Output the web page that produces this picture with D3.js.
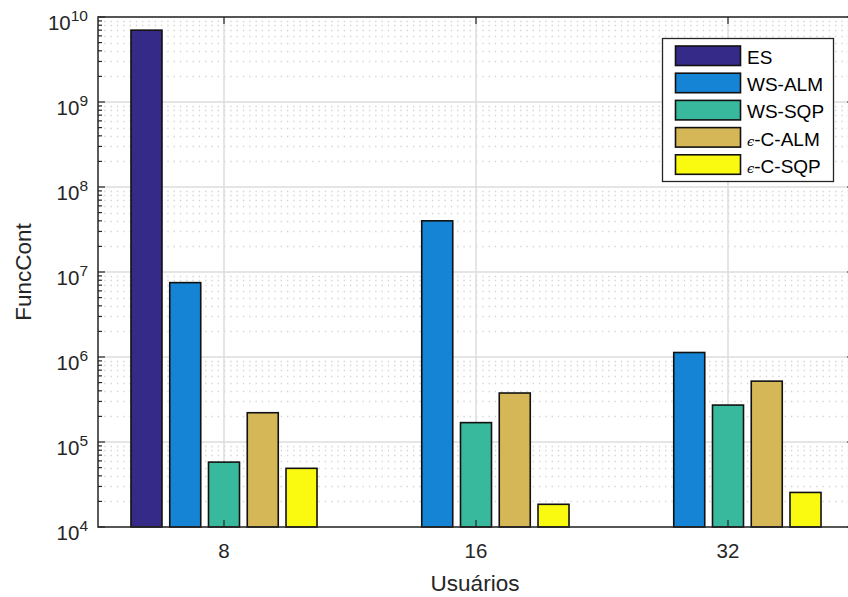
<!DOCTYPE html>
<html>
<head>
<meta charset="utf-8">
<script src="https://cdn.jsdelivr.net/npm/d3@7"></script>
<style>
  html, body { margin: 0; padding: 0; background: #fff; }
  svg { display: block; font-family: "Liberation Sans", Arial, Helvetica, sans-serif; }
</style>
</head>
<body>
<svg id="chart" width="848" height="597"></svg>
<script>
// Number of users per scenario (x groups)
const categories = ["8", "16", "32"];
// Optimisation methods (bar series)
const seriesNames = ["ES", "WS-ALM", "WS-SQP", "\u03F5-C-ALM", "\u03F5-C-SQP"];
const seriesColors = ["#352a87", "#1684d4", "#38b99e", "#d6b758", "#f9fa0f"];
// Function-evaluation counts, one array per method (null = not run)
const valuesES    = [7.0e9, null, null];
const valuesWSALM = [7.5e6, 4.0e7, 1.13e6];
const valuesWSSQP = [5.8e4, 1.69e5, 2.72e5];
const valuesECALM = [2.21e5, 3.77e5, 5.2e5];
const valuesECSQP = [4.9e4, 1.85e4, 2.55e4];
const seriesValues = [valuesES, valuesWSALM, valuesWSSQP, valuesECALM, valuesECSQP];
// Y axis decades
const yTickExponents = [4, 5, 6, 7, 8, 9, 10];

const svg = d3.select("#chart");
const plotLeft = 98, plotTop = 17, plotBottom = 527, plotRight = 854;
const axisColor = "#262626";

const x = d3.scaleBand().domain(categories).range([plotLeft, plotRight]).padding(0);
const groupW = x.bandwidth() * 0.769;
const xs = d3.scaleBand().domain(d3.range(seriesNames.length))
  .range([-groupW / 2, groupW / 2]).paddingInner(0.2).paddingOuter(0.1);
const y = d3.scaleLog().domain([1e4, 1e10]).range([plotBottom, plotTop]);

// Grid
const grid = svg.append("g");
const minorVals = [];
for (let e = 4; e < 10; e++) for (let m = 2; m <= 9; m++) minorVals.push(m * Math.pow(10, e));
grid.selectAll("line.minor").data(minorVals).join("line")
  .attr("x1", plotLeft).attr("x2", plotRight)
  .attr("y1", d => Math.round(y(d)) + 0.5).attr("y2", d => Math.round(y(d)) + 0.5)
  .attr("stroke", "#a8a8a8").attr("stroke-opacity", 0.5)
  .attr("stroke-width", 1.3).attr("stroke-dasharray", "1.3,5");
grid.selectAll("line.major").data(yTickExponents).join("line")
  .attr("x1", plotLeft).attr("x2", plotRight)
  .attr("y1", d => y(Math.pow(10, d))).attr("y2", d => y(Math.pow(10, d)))
  .attr("stroke", "#dcdcdc").attr("stroke-width", 1.5);
grid.selectAll("line.vx").data(categories).join("line")
  .attr("x1", d => x(d) + x.bandwidth() / 2).attr("x2", d => x(d) + x.bandwidth() / 2)
  .attr("y1", plotTop).attr("y2", plotBottom)
  .attr("stroke", "#dcdcdc").attr("stroke-width", 1.5);

// Bars
const bars = [];
seriesValues.forEach((vals, si) => vals.forEach((v, ci) => {
  if (v != null) bars.push({ si, ci, v });
}));
svg.append("g").selectAll("rect").data(bars).join("rect")
  .attr("x", d => x(categories[d.ci]) + x.bandwidth() / 2 + xs(d.si))
  .attr("width", xs.bandwidth())
  .attr("y", d => y(d.v))
  .attr("height", d => plotBottom - y(d.v))
  .attr("fill", d => seriesColors[d.si])
  .attr("stroke", "#111").attr("stroke-width", 1.6);

// Axes box
const ax = svg.append("g").attr("stroke", axisColor).attr("stroke-width", 1.5).attr("fill", "none");
ax.append("rect").attr("x", plotLeft).attr("y", plotTop)
  .attr("width", plotRight - plotLeft).attr("height", plotBottom - plotTop);

// Y ticks (inward, both sides)
const yt = svg.append("g").attr("stroke", axisColor).attr("stroke-width", 1.2);
yTickExponents.forEach(e => {
  const py = y(Math.pow(10, e));
  yt.append("line").attr("x1", plotLeft).attr("x2", plotLeft + 7).attr("y1", py).attr("y2", py);
  yt.append("line").attr("x1", plotRight).attr("x2", plotRight - 7).attr("y1", py).attr("y2", py);
});
minorVals.forEach(v => {
  const py = y(v);
  yt.append("line").attr("x1", plotLeft).attr("x2", plotLeft + 4).attr("y1", py).attr("y2", py);
  yt.append("line").attr("x1", plotRight).attr("x2", plotRight - 4).attr("y1", py).attr("y2", py);
});
// X ticks (inward, top and bottom)
categories.forEach(c => {
  const px = x(c) + x.bandwidth() / 2;
  yt.append("line").attr("x1", px).attr("x2", px).attr("y1", plotBottom).attr("y2", plotBottom - 7);
  yt.append("line").attr("x1", px).attr("x2", px).attr("y1", plotTop).attr("y2", plotTop + 7);
});

// Y tick labels 10^n
const ylab = svg.append("g").attr("fill", axisColor);
yTickExponents.forEach(e => {
  const py = y(Math.pow(10, e));
  const t = ylab.append("text").attr("x", 88).attr("y", py + 13).attr("text-anchor", "end")
    .style("font-size", "20.5px");
  t.append("tspan").text("10");
  t.append("tspan").attr("dy", -9).style("font-size", "15.5px").text(String(e));
});

// X tick labels
svg.append("g").selectAll("text").data(categories).join("text")
  .attr("x", d => x(d) + x.bandwidth() / 2).attr("y", 558)
  .attr("text-anchor", "middle").attr("fill", axisColor).style("font-size", "20.5px")
  .text(d => d);

// Axis titles
svg.append("text").attr("x", 475).attr("y", 591).attr("text-anchor", "middle")
  .attr("fill", axisColor).style("font-size", "22.5px").text("Usuários");
svg.append("text").attr("transform", "translate(31,272) rotate(-90)").attr("text-anchor", "middle")
  .attr("fill", axisColor).style("font-size", "22.5px").text("FuncCont");

// Legend
const lg = svg.append("g");
lg.append("rect").attr("x", 662.5).attr("y", 38.5).attr("width", 171).attr("height", 143)
  .attr("fill", "#fff").attr("stroke", axisColor).attr("stroke-width", 1.3);
seriesNames.forEach((name, i) => {
  const ry = 46 + i * 27.2;
  lg.append("rect").attr("x", 675.5).attr("y", ry).attr("width", 65).attr("height", 19.5)
    .attr("fill", seriesColors[i]).attr("stroke", "#111").attr("stroke-width", 1.6);
  const t = lg.append("text").attr("x", 747).attr("y", ry + 18).attr("fill", "#000")
    .style("font-size", "19px");
  if (name.startsWith("\u03F5")) {
    t.append("tspan").style("font-size", "13px").style("font-family", "DejaVu Serif, serif")
      .style("font-style", "italic").text("\u03F5");
    t.append("tspan").text(name.slice(1));
  } else {
    t.text(name);
  }
});
</script>
</body>
</html>
